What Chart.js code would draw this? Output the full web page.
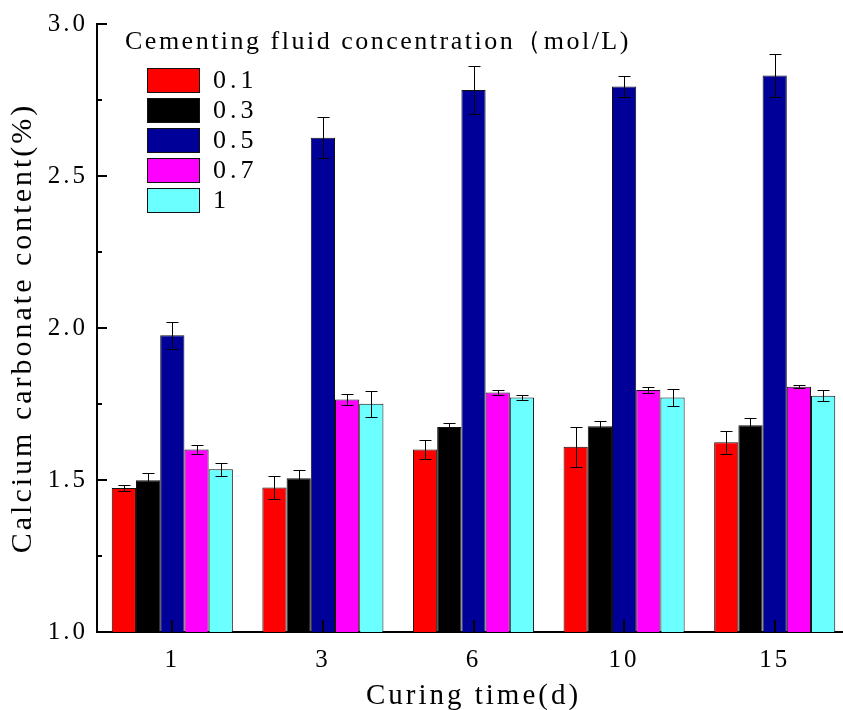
<!DOCTYPE html>
<html><head><meta charset="utf-8">
<script src="https://cdn.jsdelivr.net/npm/chart.js@4"></script>
<style>
html,body{margin:0;padding:0;background:#fff;overflow:hidden;width:843px;height:710px;}
#wrap{position:relative;width:850px;height:722px;}
</style></head><body>
<div id="wrap"><canvas id="c"></canvas></div>
<script>
const categories = ['1', '3', '6', '10', '15'];
const seriesLabels = ['0.1', '0.3', '0.5', '0.7', '1'];
const conc01 = [1.474, 1.475, 1.600, 1.609, 1.624];
const conc03 = [1.499, 1.506, 1.674, 1.677, 1.680];
const conc05 = [1.976, 2.626, 2.783, 2.794, 2.831];
const conc07 = [1.600, 1.765, 1.788, 1.796, 1.807];
const conc1  = [1.535, 1.751, 1.771, 1.771, 1.777];
const err01 = [0.010, 0.037, 0.032, 0.066, 0.038];
const err03 = [0.025, 0.028, 0.012, 0.016, 0.023];
const err05 = [0.044, 0.067, 0.079, 0.034, 0.071];
const err07 = [0.016, 0.017, 0.009, 0.009, 0.004];
const err1  = [0.021, 0.043, 0.009, 0.028, 0.018];
const yTickValues = [1.0, 1.5, 2.0, 2.5, 3.0];
const yMinorTickValues = [1.25, 1.75, 2.25, 2.75];
const legendTitle = 'Cementing fluid concentration（mol/L)';
const xTitle = 'Curing time(d)';
const yTitle = 'Calcium carbonate content(%)';

const seriesColors = ['#FF0000', '#000000', '#000099', '#FF00FF', '#6CFFFF'];
const FONT = "'Liberation Serif', 'DejaVu Serif', serif";

const values = [conc01, conc03, conc05, conc07, conc1];
const errors = [err01, err03, err05, err07, err1];

const datasets = values.map((v, i) => ({
  label: seriesLabels[i],
  data: v,
  errors: errors[i],
  backgroundColor: seriesColors[i],
  borderColor: '#111',
  borderWidth: 1,
  borderSkipped: false,
  barPercentage: 1.0,
  categoryPercentage: 0.804
}));

const spacingPlugin = {
  id: 'letterSpacing',
  beforeDraw(chart) { chart.ctx.letterSpacing = '3px'; }
};

const errorBarPlugin = {
  id: 'errorBars',
  afterDatasetsDraw(chart) {
    const ctx = chart.ctx;
    const ys = chart.scales.y;
    ctx.save();
    ctx.strokeStyle = '#000';
    ctx.lineWidth = 1;
    chart.data.datasets.forEach((ds, i) => {
      const meta = chart.getDatasetMeta(i);
      meta.data.forEach((bar, j) => {
        const v = ds.data[j], e = ds.errors[j];
        const x = Math.round(bar.x) + 0.5;
        const yt = Math.round(ys.getPixelForValue(v + e)) + 0.5;
        const yb = Math.round(ys.getPixelForValue(v - e)) + 0.5;
        ctx.beginPath();
        ctx.moveTo(x, yt); ctx.lineTo(x, yb);
        ctx.moveTo(x - 6, yt); ctx.lineTo(x + 6, yt);
        ctx.moveTo(x - 6, yb); ctx.lineTo(x + 6, yb);
        ctx.stroke();
      });
    });
    ctx.restore();
  }
};

const tickPlugin = {
  id: 'innerTicks',
  afterDraw(chart) {
    const ctx = chart.ctx;
    const ys = chart.scales.y, xs = chart.scales.x;
    const area = chart.chartArea;
    ctx.save();
    ctx.strokeStyle = '#000';
    ctx.lineWidth = 2;
    ctx.beginPath();
    yTickValues.forEach(v => {
      const y = Math.round(ys.getPixelForValue(v));
      ctx.moveTo(area.left, y); ctx.lineTo(area.left + 10, y);
    });
    yMinorTickValues.forEach(v => {
      const y = Math.round(ys.getPixelForValue(v));
      ctx.moveTo(area.left, y); ctx.lineTo(area.left + 5, y);
    });
    categories.forEach((c, i) => {
      const x = Math.round(xs.getPixelForValue(i));
      ctx.moveTo(x, area.bottom); ctx.lineTo(x, area.bottom - 12);
    });
    ctx.stroke();
    ctx.restore();
  }
};

const legendPlugin = {
  id: 'customLegend',
  afterDraw(chart) {
    const ctx = chart.ctx;
    const area = chart.chartArea;
    ctx.save();
    ctx.fillStyle = '#000';
    ctx.textBaseline = 'middle';
    ctx.textAlign = 'left';
    ctx.font = '26px ' + FONT;
    ctx.letterSpacing = '2.5px';
    ctx.fillText(legendTitle, area.left + 28, 42);
    chart.data.datasets.forEach((ds, i) => {
      const bx = area.left + 50, by = 68 + i * 30;
      ctx.fillStyle = ds.backgroundColor;
      ctx.fillRect(bx, by, 53, 25);
      ctx.strokeStyle = '#111';
      ctx.lineWidth = 1;
      ctx.strokeRect(bx + 0.5, by + 0.5, 52, 24);
      ctx.fillStyle = '#000';
      ctx.letterSpacing = '4px';
      ctx.fillText(ds.label, bx + 66, by + 13);
    });
    ctx.restore();
  }
};

new Chart(document.getElementById('c'), {
  type: 'bar',
  data: { labels: categories, datasets },
  plugins: [spacingPlugin, errorBarPlugin, tickPlugin, legendPlugin],
  options: {
    responsive: true,
    maintainAspectRatio: false,
    animation: false,
    layout: { padding: { left: 0, right: 0, top: 22, bottom: 0 } },
    plugins: { legend: { display: false }, tooltip: { enabled: false } },
    scales: {
      x: {
        type: 'category',
        offset: true,
        grid: { display: false, drawTicks: false },
        border: { display: true, color: '#000', width: 2 },
        ticks: { color: '#000', font: { family: FONT, size: 25 }, padding: 13, maxRotation: 0 },
        title: { display: true, text: xTitle, color: '#000', font: { family: FONT, size: 29 }, padding: { top: 0, bottom: 8 } },
        afterFit(scale) { scale.height = 90; }
      },
      y: {
        min: 1, max: 3,
        grid: { display: false, drawTicks: false },
        border: { display: true, color: '#000', width: 2 },
        afterBuildTicks(scale) { scale.ticks = yTickValues.map(v => ({ value: v })); },
        ticks: { color: '#000', font: { family: FONT, size: 25 }, padding: 9,
                 callback: (v) => Number(v).toFixed(1) },
        title: { display: true, text: yTitle, color: '#000', font: { family: FONT, size: 30 }, padding: { top: 5, bottom: 0 } },
        afterFit(scale) { scale.width = 97; }
      }
    }
  }
});
</script>
</body></html>
